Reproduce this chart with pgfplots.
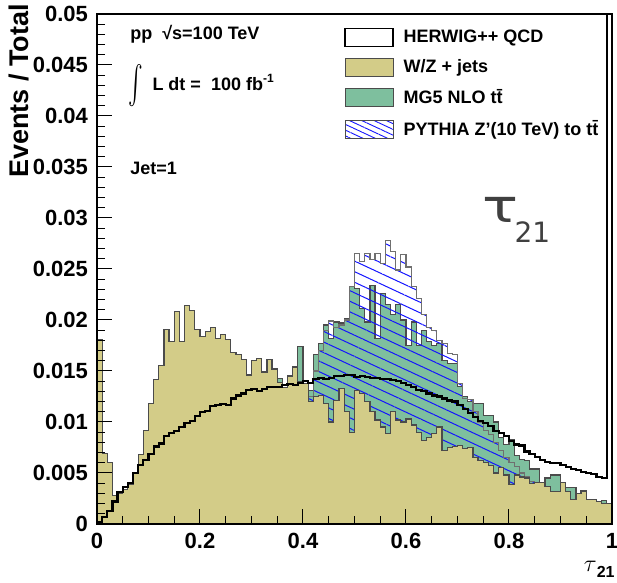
\documentclass[border=0pt]{standalone}
\usepackage{fontspec}
\setmainfont{Liberation Sans}
\newfontfamily\dejavu{DejaVu Sans}
\usepackage{pgfplots}
\pgfplotsset{compat=1.18}
\usepackage{pgfplotstable}
\usetikzlibrary{patterns.meta}
\definecolor{wzcol}{RGB}{211,204,136}
\definecolor{ttcol}{RGB}{126,191,158}
\definecolor{zpcol}{RGB}{20,20,255}
\definecolor{edgecol}{RGB}{75,75,75}

% W/Z + jets
\pgfplotstableread[row sep=\\]{
x y \\
0.00 0.0181 \\ 0.01 0.0069 \\ 0.02 0.0060 \\ 0.03 0.0028 \\ 0.04 0.0030 \\ 0.05 0.0034 \\ 0.06 0.0039 \\ 0.07 0.0050 \\ 0.08 0.0068 \\ 0.09 0.0092 \\
0.10 0.0118 \\ 0.11 0.0142 \\ 0.12 0.0155 \\ 0.13 0.0191 \\ 0.14 0.0179 \\ 0.15 0.0208 \\ 0.16 0.0179 \\ 0.17 0.0214 \\ 0.18 0.0209 \\ 0.19 0.0191 \\
0.20 0.0184 \\ 0.21 0.0189 \\ 0.22 0.0193 \\ 0.23 0.0182 \\ 0.24 0.0186 \\ 0.25 0.0181 \\ 0.26 0.0168 \\ 0.27 0.0166 \\ 0.28 0.0161 \\ 0.29 0.0146 \\
0.30 0.0160 \\ 0.31 0.0162 \\ 0.32 0.0149 \\ 0.33 0.0161 \\ 0.34 0.0152 \\ 0.35 0.0139 \\ 0.36 0.0134 \\ 0.37 0.0145 \\ 0.38 0.0154 \\ 0.39 0.0140 \\
0.40 0.0138 \\ 0.41 0.0120 \\ 0.42 0.0125 \\ 0.43 0.0126 \\ 0.44 0.0118 \\ 0.45 0.0100 \\ 0.46 0.0121 \\ 0.47 0.0133 \\ 0.48 0.0110 \\ 0.49 0.0090 \\
0.50 0.0131 \\ 0.51 0.0128 \\ 0.52 0.0120 \\ 0.53 0.0110 \\ 0.54 0.0102 \\ 0.55 0.0095 \\ 0.56 0.0089 \\ 0.57 0.0110 \\ 0.58 0.0102 \\ 0.59 0.0100 \\
0.60 0.0103 \\ 0.61 0.0097 \\ 0.62 0.0090 \\ 0.63 0.0082 \\ 0.64 0.0085 \\ 0.65 0.0089 \\ 0.66 0.0095 \\ 0.67 0.0072 \\ 0.68 0.0075 \\ 0.69 0.0076 \\
0.70 0.0077 \\ 0.71 0.0074 \\ 0.72 0.0075 \\ 0.73 0.0065 \\ 0.74 0.0062 \\ 0.75 0.0060 \\ 0.76 0.0057 \\ 0.77 0.0050 \\ 0.78 0.0055 \\ 0.79 0.0048 \\
0.80 0.0039 \\ 0.81 0.0048 \\ 0.82 0.0046 \\ 0.83 0.0045 \\ 0.84 0.0040 \\ 0.85 0.0041 \\ 0.86 0.0041 \\ 0.87 0.0037 \\ 0.88 0.0032 \\ 0.89 0.0032 \\
0.90 0.0041 \\ 0.91 0.0032 \\ 0.92 0.0024 \\ 0.93 0.0030 \\ 0.94 0.0032 \\ 0.95 0.0024 \\ 0.96 0.0024 \\ 0.97 0.0022 \\ 0.98 0.0020 \\ 0.99 0.0020 \\
1.00 0.0020 \\
}\wzjets

% HERWIG++ QCD
\pgfplotstableread[row sep=\\]{
x y \\
0.00 0.0002 \\ 0.01 0.0007 \\ 0.02 0.0013 \\ 0.03 0.0022 \\ 0.04 0.0031 \\ 0.05 0.0036 \\ 0.06 0.0040 \\ 0.07 0.0050 \\ 0.08 0.0058 \\ 0.09 0.0063 \\
0.10 0.0069 \\ 0.11 0.0076 \\ 0.12 0.0079 \\ 0.13 0.0086 \\ 0.14 0.0089 \\ 0.15 0.0091 \\ 0.16 0.0095 \\ 0.17 0.0099 \\ 0.18 0.0101 \\ 0.19 0.0106 \\
0.20 0.0110 \\ 0.21 0.0111 \\ 0.22 0.0116 \\ 0.23 0.0117 \\ 0.24 0.0118 \\ 0.25 0.0117 \\ 0.26 0.0123 \\ 0.27 0.0126 \\ 0.28 0.0128 \\ 0.29 0.0131 \\
0.30 0.0132 \\ 0.31 0.0130 \\ 0.32 0.0132 \\ 0.33 0.0134 \\ 0.34 0.0134 \\ 0.35 0.0134 \\ 0.36 0.0136 \\ 0.37 0.0137 \\ 0.38 0.0136 \\ 0.39 0.0138 \\
0.40 0.0140 \\ 0.41 0.0138 \\ 0.42 0.0142 \\ 0.43 0.0143 \\ 0.44 0.0142 \\ 0.45 0.0143 \\ 0.46 0.0145 \\ 0.47 0.0145 \\ 0.48 0.0146 \\ 0.49 0.0146 \\
0.50 0.0144 \\ 0.51 0.0145 \\ 0.52 0.0144 \\ 0.53 0.0143 \\ 0.54 0.0143 \\ 0.55 0.0142 \\ 0.56 0.0142 \\ 0.57 0.0141 \\ 0.58 0.0140 \\ 0.59 0.0138 \\
0.60 0.0136 \\ 0.61 0.0134 \\ 0.62 0.0131 \\ 0.63 0.0130 \\ 0.64 0.0128 \\ 0.65 0.0126 \\ 0.66 0.0125 \\ 0.67 0.0123 \\ 0.68 0.0121 \\ 0.69 0.0120 \\
0.70 0.0117 \\ 0.71 0.0113 \\ 0.72 0.0109 \\ 0.73 0.0105 \\ 0.74 0.0101 \\ 0.75 0.0099 \\ 0.76 0.0096 \\ 0.77 0.0091 \\ 0.78 0.0089 \\ 0.79 0.0086 \\
0.80 0.0081 \\ 0.81 0.0078 \\ 0.82 0.0077 \\ 0.83 0.0071 \\ 0.84 0.0069 \\ 0.85 0.0066 \\ 0.86 0.0063 \\ 0.87 0.0061 \\ 0.88 0.0060 \\ 0.89 0.0060 \\
0.90 0.0058 \\ 0.91 0.0056 \\ 0.92 0.0054 \\ 0.93 0.0053 \\ 0.94 0.0051 \\ 0.95 0.0050 \\ 0.96 0.0049 \\ 0.97 0.0046 \\ 0.98 0.0045 \\ 0.99 0.0800 \\
1.00 0.0800 \\
}\qcd

% MG5 NLO ttbar
\pgfplotstableread[row sep=\\]{
x y \\
0.35 0.0143 \\ 0.36 0.0120 \\ 0.37 0.0130 \\ 0.38 0.0140 \\ 0.39 0.0174 \\
0.40 0.0130 \\ 0.41 0.0131 \\ 0.42 0.0166 \\ 0.43 0.0177 \\ 0.44 0.0195 \\ 0.45 0.0182 \\ 0.46 0.0198 \\ 0.47 0.0197 \\ 0.48 0.0201 \\ 0.49 0.0233 \\
0.50 0.0231 \\ 0.51 0.0211 \\ 0.52 0.0198 \\ 0.53 0.0234 \\ 0.54 0.0182 \\ 0.55 0.0226 \\ 0.56 0.0215 \\ 0.57 0.0205 \\ 0.58 0.0215 \\ 0.59 0.0200 \\
0.60 0.0175 \\ 0.61 0.0198 \\ 0.62 0.0175 \\ 0.63 0.0190 \\ 0.64 0.0179 \\ 0.65 0.0175 \\ 0.66 0.0177 \\ 0.67 0.0160 \\ 0.68 0.0157 \\ 0.69 0.0157 \\
0.70 0.0135 \\ 0.71 0.0125 \\ 0.72 0.0120 \\ 0.73 0.0118 \\ 0.74 0.0118 \\ 0.75 0.0106 \\ 0.76 0.0106 \\ 0.77 0.0100 \\ 0.78 0.0085 \\ 0.79 0.0078 \\
0.80 0.0083 \\ 0.81 0.0067 \\ 0.82 0.0063 \\ 0.83 0.0062 \\ 0.84 0.0054 \\ 0.85 0.0054 \\ 0.86 0.0038 \\ 0.87 0.0045 \\ 0.88 0.0048 \\ 0.89 0.0048 \\
0.90 0.0033 \\ 0.91 0.0036 \\ 0.92 0.0036 \\ 0.93 0.0025 \\ 0.94 0.0033 \\ 0.95 0.0020 \\ 0.96 0.0020 \\ 0.97 0.0018 \\ 0.98 0.0023 \\ 0.99 0.0010 \\
1.00 0.0010 \\
}\ttbar

% PYTHIA Z'(10 TeV) to ttbar
\pgfplotstableread[row sep=\\]{
x y \\
0.41 0.0125 \\ 0.42 0.0150 \\ 0.43 0.0170 \\ 0.44 0.0190 \\ 0.45 0.0199 \\ 0.46 0.0193 \\ 0.47 0.0195 \\ 0.48 0.0200 \\ 0.49 0.0233 \\
0.50 0.0265 \\ 0.51 0.0257 \\ 0.52 0.0265 \\ 0.53 0.0259 \\ 0.54 0.0265 \\ 0.55 0.0255 \\ 0.56 0.0278 \\ 0.57 0.0267 \\ 0.58 0.0249 \\ 0.59 0.0264 \\
0.60 0.0252 \\ 0.61 0.0233 \\ 0.62 0.0221 \\ 0.63 0.0205 \\ 0.64 0.0193 \\ 0.65 0.0190 \\ 0.66 0.0180 \\ 0.67 0.0177 \\ 0.68 0.0167 \\ 0.69 0.0166 \\
0.70 0.0138 \\ 0.71 0.0123 \\ 0.72 0.0122 \\ 0.73 0.0110 \\ 0.74 0.0100 \\ 0.75 0.0092 \\ 0.76 0.0088 \\ 0.77 0.0080 \\ 0.78 0.0072 \\ 0.79 0.0065 \\
0.80 0.0060 \\ 0.81 0.0056 \\ 0.82 0.0050 \\ 0.83 0.0046 \\ 0.84 0.0042 \\ 0.85 0.0030 \\ 0.86 0.0030 \\
}\zprime

\begin{document}
\begin{tikzpicture}
\begin{axis}[
  name=ax,
  scale only axis,
  width=257.5pt, height=255pt,
  xmin=0, xmax=1, ymin=0, ymax=0.05,
  axis on top,
  axis line style={line width=0.6pt, black},
  xtick={0,0.2,0.4,0.6,0.8,1},
  xticklabels={0,0.2,0.4,0.6,0.8,1},
  ytick={0,0.005,0.01,0.015,0.02,0.025,0.03,0.035,0.04,0.045,0.05},
  yticklabels={0,0.005,0.01,0.015,0.02,0.025,0.03,0.035,0.04,0.045,0.05},
  scaled y ticks=false,
  minor x tick num=3,
  minor y tick num=4,
  tick align=inside,
  xtick pos=bottom, ytick pos=left,
  major tick length=7.5pt, minor tick length=4pt,
  tick style={line width=0.5pt, black},
  ticklabel style={font=\fontsize{11}{13}\selectfont\bfseries},
  xticklabel style={yshift=-1pt},
  yticklabel style={xshift=-1pt},
  legend style={at={(0.468,0.986)}, anchor=north west, draw=none, fill=none,
    font=\fontsize{9}{10}\selectfont\bfseries, row sep=3pt,
    nodes={inner sep=2pt},
    /tikz/every odd column/.append style={column sep=3pt}},
  legend cell align=left,
  legend image code/.code={\draw[#1] (0pt,-4.5pt) rectangle (24pt,4.5pt);},
]
\addlegendimage{draw=black, line width=0.6pt, fill=white}
\addlegendentry{HERWIG++ QCD}
\addlegendimage{draw=edgecol, line width=0.5pt, fill=wzcol}
\addlegendentry{W/Z + jets}
\addlegendimage{draw=edgecol, line width=0.5pt, fill=ttcol}
\addlegendentry{MG5 NLO t\={t}}
\addlegendimage{draw=edgecol, line width=0.5pt, pattern={Lines[angle=-25,distance=2.6pt,line width=0.45pt]}, pattern color=zpcol}
\addlegendentry{PYTHIA Z'(10 TeV) to t\={t}}

\addplot[const plot mark left, fill=ttcol, draw=edgecol, line width=0.6pt, forget plot] table[x=x,y=y] {\ttbar} \closedcycle;
\addplot[const plot mark left, pattern={Lines[angle=-25,distance=4.8pt,line width=0.5pt]}, pattern color=zpcol, draw=edgecol!80, line width=0.6pt, forget plot] table[x=x,y=y] {\zprime} \closedcycle;
\addplot[const plot mark left, fill=wzcol, draw=edgecol, line width=0.6pt, forget plot] table[x=x,y=y] {\wzjets} \closedcycle;
\addplot[const plot mark left, draw=black, line width=1.1pt, forget plot] table[x=x,y=y] {\qcd};

\node[anchor=west, font=\fontsize{9}{10}\selectfont\bfseries, inner sep=0pt] at (rel axis cs:0.064,0.960) {pp\ \ √s=100 TeV};
\node[anchor=west, inner sep=0pt] at (rel axis cs:0.060,0.860) {\scalebox{1.1}[1.9]{\fontsize{11}{12}\selectfont$\int$}};
\node[anchor=west, font=\fontsize{9}{10}\selectfont\bfseries, inner sep=0pt] at (rel axis cs:0.107,0.866) {L dt =\ \ 100 fb\textsuperscript{-1}};
\node[anchor=west, font=\fontsize{9}{10}\selectfont\bfseries, inner sep=0pt] at (rel axis cs:0.064,0.698) {Jet=1};
\node[anchor=base west, inner sep=0pt, text=black!75] at (rel axis cs:0.748,0.592) {\dejavu\fontsize{23}{24}\selectfont\scalebox{1.3}[1]{τ}\kern-2pt\raisebox{-10pt}{\fontsize{14}{15}\selectfont 21}};
\end{axis}
\node[rotate=90, anchor=base east, inner sep=0pt, font=\fontsize{13.5}{15}\selectfont\bfseries] at ([xshift=-34pt,yshift=5pt]ax.north west) {Events / Total};
\node[anchor=base east, inner sep=0pt] at ([xshift=1.5pt,yshift=-24pt]ax.south east) {\fontsize{12}{13}\selectfont$\tau$\raisebox{-3pt}{\fontsize{8}{9}\selectfont\bfseries 21}};
\pgfresetboundingbox
\path[use as bounding box] ([xshift=-48.5pt,yshift=-29.5pt]ax.south west) rectangle ([xshift=2.5pt,yshift=7pt]ax.north east);
\end{tikzpicture}
\end{document}
